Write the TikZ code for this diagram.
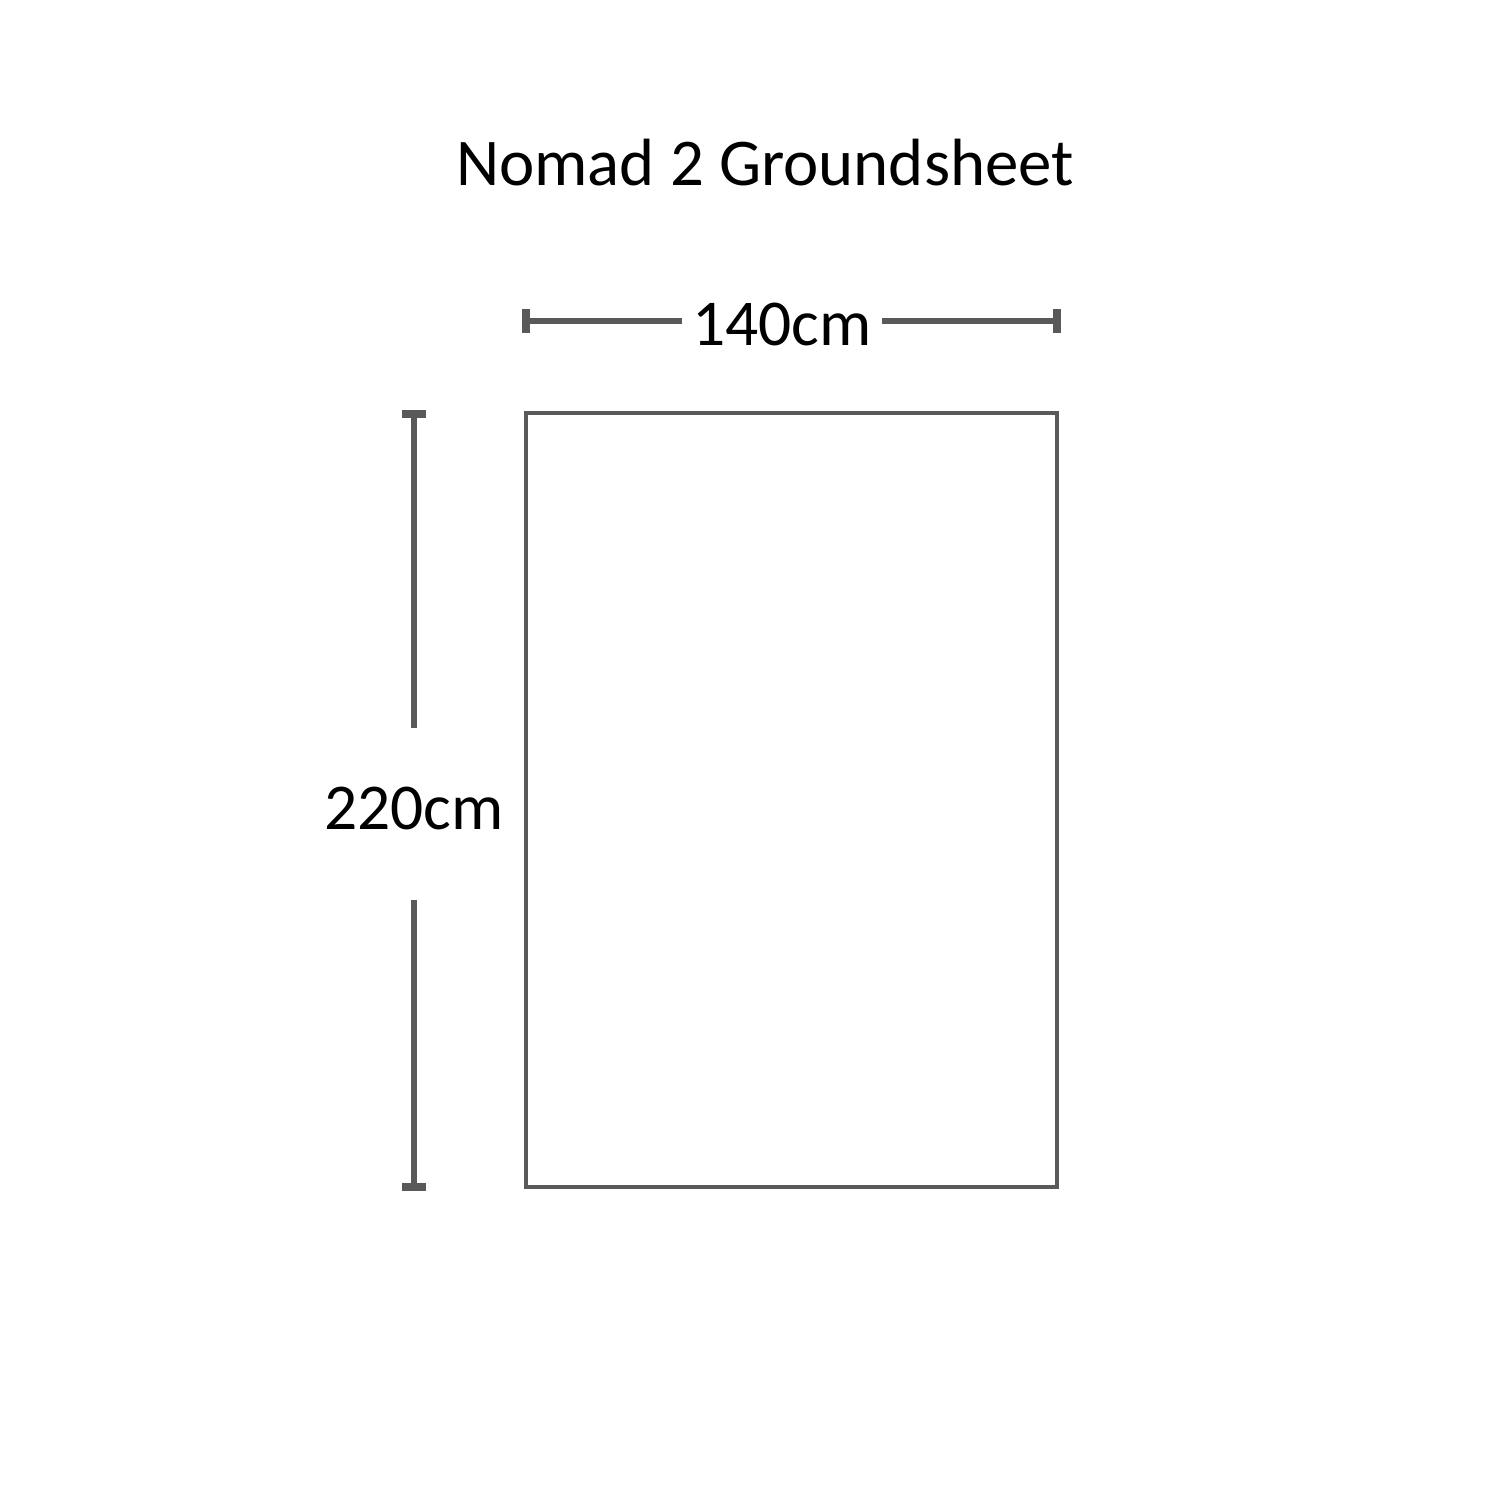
\documentclass[tikz,border=0pt]{standalone}
\usepackage{fontspec}
\setmainfont{Carlito}
\definecolor{dimgray}{HTML}{595959}
\begin{document}
\begin{tikzpicture}[x=0.01cm,y=-0.01cm,
  dimline/.style={draw=dimgray,line width=1.8pt},
  dimtick/.style={draw=dimgray,line width=2.2pt},
  sheet/.style={draw=dimgray,line width=0.9pt},
  lbl/.style={inner sep=0pt,font=\fontsize{18.6}{22}\selectfont}]
\useasboundingbox (0,0) rectangle (1500,1500);
\node[inner sep=0pt,font=\fontsize{19}{23}\selectfont] (title) at (765,163) {Nomad 2 Groundsheet};
\draw[sheet] (526,413) rectangle (1057,1187);
% horizontal dimension
\coordinate (hl) at (526,321);
\coordinate (hr) at (1057,321);
\node[lbl] (w) at (782,324) {140cm};
\draw[dimline] (hl) -- (682,321);
\draw[dimline] (882,321) -- (hr);
\draw[dimtick] (526,309) -- (526,333);
\draw[dimtick] (1057,309) -- (1057,333);
% vertical dimension
\coordinate (vt) at (414,414);
\coordinate (vb) at (414,1187);
\node[lbl] (h) at (414,808) {220cm};
\draw[dimline] (vt) -- (414,728);
\draw[dimline] (414,900) -- (vb);
\draw[dimtick] (402,414) -- (426,414);
\draw[dimtick] (402,1187) -- (426,1187);
\end{tikzpicture}
\end{document}
